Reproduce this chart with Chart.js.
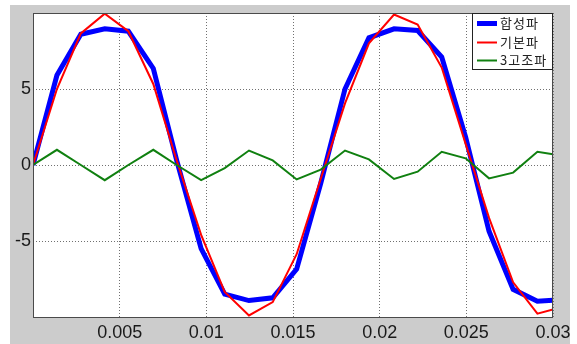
<!DOCTYPE html>
<html><head><meta charset="utf-8">
<script src="https://cdn.jsdelivr.net/npm/chart.js@4/dist/chart.umd.min.js"></script>
<style>html,body{margin:0;padding:0;background:#fff;overflow:hidden}#wrap{position:relative;width:577px;height:344px}</style>
</head><body><div id="wrap"><canvas id="c" width="577" height="344"></canvas></div>
<script>
// ---- data ----
const seriesNames = ['합성파', '기본파', '3고조파'];
const timeValues = [0, 0.00138, 0.00276, 0.00414, 0.0055, 0.00694, 0.00829, 0.0097, 0.01106, 0.01246, 0.01383, 0.01521, 0.0166, 0.018, 0.01938, 0.02083, 0.02219, 0.02358, 0.02496, 0.02631, 0.0277, 0.0291, 0.03];
const compositeValues = [0, 5.9, 8.6, 8.96, 8.8, 6.35, 0.3, -5.5, -8.5, -8.92, -8.74, -6.85, -1.2, 5.0, 8.37, 8.96, 8.85, 7.1, 1.83, -4.36, -8.18, -8.96, -8.9];
const fundamentalValues = [0, 5.0, 8.66, 9.96, 8.8, 5.33, 0.3, -4.6, -8.35, -9.9, -9.02, -5.87, -0.9, 4.05, 8.0, 9.9, 9.24, 6.41, 1.39, -3.48, -7.72, -9.78, -9.5];
const thirdHarmonicValues = [0, 1.0, 0.0, -1.0, 0.0, 1.0, 0.0, -1.0, -0.2, 0.95, 0.3, -0.95, -0.3, 0.95, 0.37, -0.92, -0.44, 0.87, 0.44, -0.88, -0.5, 0.87, 0.7];
const xTickValues = [0.005, 0.01, 0.015, 0.02, 0.025, 0.03];
const xTickLabels = ['0.005', '0.01', '0.015', '0.02', '0.025', '0.03'];
const yTickValues = [-5, 0, 5];
const yTickLabels = ['-5', '0', '5'];

const toPts = vals => vals.map((v, i) => ({x: timeValues[i], y: v}));

const seriesStyles = [
  {color: '#0000ff', width: 5, order: 3},
  {color: '#ff0000', width: 2, order: 2},
  {color: '#108010', width: 2, order: 1}
];
const seriesData = [compositeValues, fundamentalValues, thirdHarmonicValues];

const frame = {
  id: 'frame',
  beforeDraw(chart) {
    const {ctx, chartArea: a} = chart;
    ctx.save();
    ctx.fillStyle = '#cccccc';
    ctx.fillRect(10, 5, 560, 339);
    ctx.fillStyle = '#ffffff';
    ctx.fillRect(a.left, a.top, a.right - a.left, a.bottom - a.top);
    ctx.restore();
  },
  afterDraw(chart) {
    const {ctx, chartArea: a} = chart;
    ctx.save();
    ctx.strokeStyle = '#4a4a4a';
    ctx.lineWidth = 1;
    ctx.strokeRect(a.left + 0.5, a.top + 0.5, a.right - a.left - 1, a.bottom - a.top);
    // legend
    const w = 81, h = 57;
    const bx = a.right - w, by = a.top;
    ctx.fillStyle = '#ffffff';
    ctx.fillRect(bx, by, w, h);
    ctx.strokeStyle = '#222';
    ctx.strokeRect(bx + 0.5, by + 0.5, w - 1, h - 1);
    const rows = [10.5, 29.5, 47.5];
    ctx.font = '13px "Noto Sans CJK KR", sans-serif';
    ctx.textBaseline = 'middle';
    ctx.textAlign = 'left';
    seriesNames.forEach((name, i) => {
      const y = by + rows[i];
      ctx.strokeStyle = seriesStyles[i].color;
      ctx.lineWidth = seriesStyles[i].width;
      ctx.beginPath();
      ctx.moveTo(bx + 5, y);
      ctx.lineTo(bx + 25, y);
      ctx.stroke();
      ctx.fillStyle = '#222';
      try { ctx.letterSpacing = '1px'; } catch (e) {}
      ctx.fillText(name, bx + 28, y);
    });
    ctx.restore();
  }
};

new Chart(document.getElementById('c'), {
  type: 'line',
  data: {
    datasets: seriesNames.map((name, i) => ({
      label: name,
      data: toPts(seriesData[i]),
      borderColor: seriesStyles[i].color,
      borderWidth: seriesStyles[i].width,
      order: seriesStyles[i].order,
      pointRadius: 0,
      tension: 0,
      fill: false,
      borderJoinStyle: 'miter'
    }))
  },
  options: {
    responsive: false,
    animation: false,
    devicePixelRatio: 1,
    layout: {padding: {left: 0, top: 13, right: 24, bottom: 0}},
    plugins: {legend: {display: false}, tooltip: {enabled: false}},
    scales: {
      x: {
        type: 'linear', min: 0, max: 0.03,
        afterBuildTicks: s => { s.ticks = xTickValues.map(v => ({value: v})); },
        afterFit: s => { s.height = 27; },
        ticks: {
          callback: (v) => { const k = xTickValues.indexOf(v); return k >= 0 ? xTickLabels[k] : ''; },
          font: {family: '"Liberation Sans", Arial, sans-serif', size: 18},
          color: '#1a1a1a', padding: 5, maxRotation: 0, autoSkip: false
        },
        grid: {color: '#707070', lineWidth: 1, drawTicks: false},
        border: {display: false, dash: [1, 2]}
      },
      y: {
        type: 'linear', min: -10, max: 10,
        afterBuildTicks: s => { s.ticks = yTickValues.map(v => ({value: v})); },
        afterFit: s => { s.width = 33; },
        ticks: {
          callback: (v) => { const k = yTickValues.indexOf(v); return k >= 0 ? yTickLabels[k] : ''; },
          font: {family: '"Liberation Sans", Arial, sans-serif', size: 18},
          color: '#1a1a1a', padding: 2, autoSkip: false
        },
        grid: {color: '#707070', lineWidth: 1, drawTicks: false},
        border: {display: false, dash: [1, 2]}
      }
    }
  },
  plugins: [frame]
});
</script>
</body></html>
